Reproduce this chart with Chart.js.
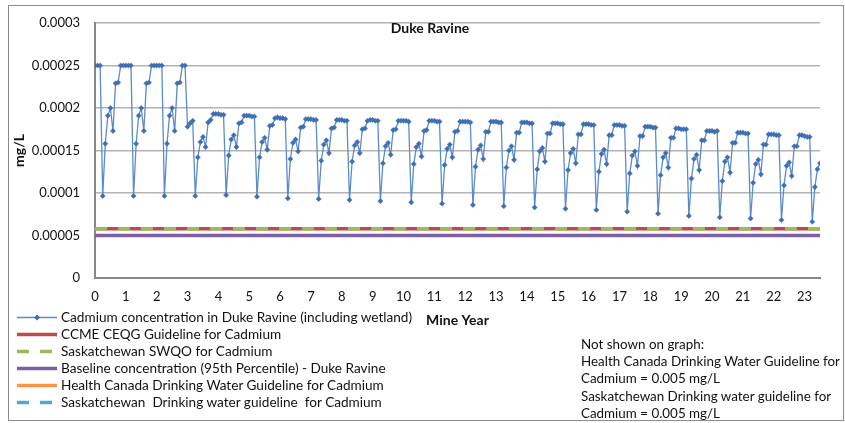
<!DOCTYPE html>
<html><head><meta charset="utf-8">
<script src="https://cdn.jsdelivr.net/npm/chart.js@4.4.1/dist/chart.umd.min.js"></script>
<style>
html,body{margin:0;padding:0;background:#fff;}
#wrap{position:relative;width:845px;height:423px;overflow:hidden;font-family:Lato,"Liberation Sans",sans-serif;color:#111;}
#c{position:absolute;left:0;top:0;}
#frame{position:absolute;left:8px;top:5px;width:836px;height:416px;border:1px solid #8c8c8c;box-sizing:border-box;pointer-events:none;}
#title{position:absolute;left:0;width:860px;top:19px;text-align:center;font-weight:bold;font-size:14px;}
#legend{position:absolute;left:16px;top:309px;font-size:13.6px;line-height:17px;}
.row{height:17px;display:flex;align-items:center;white-space:nowrap;}
.row svg{width:42px;height:17px;margin-right:3px;flex:none;}
#note{position:absolute;left:581px;top:336px;font-size:13.4px;line-height:17.2px;}
</style></head>
<body>
<div id="wrap">
<canvas id="c" width="845" height="423"></canvas>
<div id="frame"></div>
<div id="title">Duke Ravine</div>
<div id="legend"></div>
<div id="note">Not shown on graph:<br>Health Canada Drinking Water Guideline for<br>Cadmium = 0.005 mg/L<br>Saskatchewan Drinking water guideline for<br>Cadmium = 0.005 mg/L</div>
</div>
<script>
// Monthly cadmium concentration (mg/L), one row per mine year (12 months each)
const cadmiumMonthly = [
 0.00025,0.00025,0.00025,0.0000965,0.000158,0.000191,0.0002,0.000173,0.000229,0.00023,0.00025,0.00025,
 0.00025,0.00025,0.00025,0.0000965,0.000158,0.000191,0.0002,0.000173,0.000229,0.00023,0.00025,0.00025,
 0.00025,0.00025,0.00025,0.0000965,0.000158,0.000191,0.0002,0.000173,0.000229,0.00023,0.00025,0.00025,
 0.000178,0.000182,0.000185,0.0000965,0.000142,0.00016,0.000166,0.000154,0.000183,0.000186,0.000193,0.000193,
 0.000193,0.000192,0.000192,0.0000976,0.000144,0.000163,0.000168,0.000154,0.000182,0.000183,0.000191,0.000191,
 0.000191,0.00019,0.00019,0.0000957,0.000142,0.00016,0.000165,0.000151,0.000179,0.00018,0.000188,0.000189,
 0.000188,0.000188,0.000187,0.0000937,0.00014,0.000159,0.000163,0.000149,0.000177,0.000178,0.000187,0.000187,
 0.000187,0.000186,0.000186,0.000093,0.000138,0.000157,0.000162,0.000147,0.000176,0.000177,0.000186,0.000186,
 0.000186,0.000185,0.000185,0.0000918,0.000137,0.000156,0.00016,0.000147,0.000175,0.000176,0.000185,0.000186,
 0.000186,0.000185,0.000185,0.0000905,0.000135,0.000155,0.000159,0.000145,0.000174,0.000175,0.000185,0.000185,
 0.000185,0.000185,0.000184,0.000089,0.000134,0.000154,0.000158,0.000143,0.000173,0.000174,0.000185,0.000185,
 0.000185,0.000184,0.000184,0.0000875,0.000133,0.000152,0.000157,0.000142,0.000172,0.000173,0.000184,0.000184,
 0.000184,0.000184,0.000183,0.000086,0.000131,0.000151,0.000156,0.00014,0.000172,0.000172,0.000184,0.000184,
 0.000184,0.000183,0.000183,0.0000845,0.00013,0.00015,0.000155,0.000139,0.000171,0.000171,0.000183,0.000183,
 0.000183,0.000182,0.000182,0.000083,0.000128,0.000149,0.000153,0.000137,0.00017,0.00017,0.000182,0.000182,
 0.000182,0.000181,0.000181,0.0000815,0.000127,0.000147,0.000152,0.000135,0.000169,0.000169,0.000181,0.000181,
 0.000181,0.00018,0.00018,0.00008,0.000125,0.000146,0.000151,0.000134,0.000168,0.000168,0.00018,0.00018,
 0.00018,0.000179,0.000179,0.000078,0.000123,0.000144,0.000149,0.000132,0.000167,0.000167,0.000178,0.000178,
 0.000178,0.000177,0.000177,0.0000757,0.000121,0.000142,0.000147,0.00013,0.000165,0.000165,0.000176,0.000176,
 0.000175,0.000175,0.000175,0.000073,0.000117,0.00014,0.000145,0.000127,0.000162,0.000162,0.000173,0.000173,
 0.000173,0.000172,0.000173,0.0000714,0.000114,0.000137,0.000142,0.000124,0.000159,0.000159,0.000171,0.000171,
 0.000171,0.00017,0.00017,0.00007,0.000112,0.000134,0.000139,0.000122,0.000157,0.000157,0.000169,0.000169,
 0.000169,0.000168,0.000168,0.0000682,0.000109,0.000132,0.000136,0.00012,0.000155,0.000155,0.000168,0.000168,
 0.000167,0.000166,0.000166,0.0000662,0.000107,0.000128,0.000135
];
const ccmeGuideline = 0.000058;
const swqoGuideline = 0.000058;
const baselineP95 = 0.00005;
const healthCanadaGuideline = 0.005;
const saskDrinkingGuideline = 0.005;
const seriesLabels = [
 'Cadmium concentration in Duke Ravine (including wetland)',
 'CCME CEQG Guideline for Cadmium',
 'Saskatchewan SWQO for Cadmium',
 'Baseline concentration (95th Percentile) - Duke Ravine',
 'Health Canada Drinking Water Guideline for Cadmium',
 'Saskatchewan  Drinking water guideline  for Cadmium'
];
const yearTickLabels = ['0','1','2','3','4','5','6','7','8','9','10','11','12','13','14','15','16','17','18','19','20','21','22','23'];
const yTickLabels = {'0':'0','0.00005':'0.00005','0.0001':'0.0001','0.00015':'0.00015','0.0002':'0.0002','0.00025':'0.00025','0.0003':'0.0003'};

const MONTHS = 12;
const lastYear = (cadmiumMonthly.length - 1) / MONTHS;
const cadPoints = cadmiumMonthly.map((v, i) => ({x: i / MONTHS, y: v}));
const flat = v => [{x: 0, y: v}, {x: lastYear, y: v}];

const colors = ['#4a7ebb', '#be4b48', '#9bbb59', '#7d60a0', '#f79646', '#4bacc6'];
const font = {family: 'Lato, "Liberation Sans", sans-serif', size: 13};

const datasets = [
 {label: seriesLabels[0], data: cadPoints, borderColor: '#5a8bcb', borderWidth: 1.3, pointStyle: 'rectRot', pointRadius: 2.6, pointBackgroundColor: '#3f6fb3', pointBorderColor: '#3f6fb3', pointBorderWidth: 0.5, tension: 0, order: 0},
 {label: seriesLabels[1], data: flat(ccmeGuideline), borderColor: colors[1], borderWidth: 3.5, pointRadius: 0, order: 2},
 {label: seriesLabels[2], data: flat(swqoGuideline), borderColor: colors[2], borderWidth: 3.5, borderDash: [12, 11], pointRadius: 0, order: 1},
 {label: seriesLabels[3], data: flat(baselineP95), borderColor: colors[3], borderWidth: 3.5, pointRadius: 0, order: 3},
 {label: seriesLabels[4], data: flat(healthCanadaGuideline), borderColor: colors[4], borderWidth: 3.5, pointRadius: 0, order: 4},
 {label: seriesLabels[5], data: flat(saskDrinkingGuideline), borderColor: colors[5], borderWidth: 3.5, borderDash: [12, 11], pointRadius: 0, order: 5}
];

new Chart(document.getElementById('c'), {
 type: 'line',
 data: {datasets},
 options: {
  responsive: false, animation: false, events: [],
  layout: {padding: {top: 23, right: 25, bottom: 0, left: 0}},
  plugins: {legend: {display: false}, title: {display: false}, tooltip: {enabled: false}},
  scales: {
   x: {
    type: 'linear', min: 0, max: lastYear,
    ticks: {stepSize: 1, includeBounds: false, autoSkip: false, maxRotation: 0, padding: 11, color: '#111', font,
            callback: v => yearTickLabels[v] !== undefined ? yearTickLabels[v] : ''},
    grid: {display: false, drawTicks: false},
    border: {display: true, color: '#878787', width: 2},
    title: {display: true, text: 'Mine Year', color: '#111', font: {family: font.family, size: 14, weight: 'bold'}, padding: {top: 0, bottom: 94}},
    afterFit: s => { s.height = 145; }
   },
   y: {
    min: 0, max: 0.0003,
    ticks: {stepSize: 0.00005, padding: 15, color: '#111', font,
            callback: v => { const k = String(parseFloat(v.toFixed(5))); return yTickLabels[k] !== undefined ? yTickLabels[k] : k; }},
    grid: {color: '#b3b3b3', lineWidth: 1.5, drawTicks: false},
    border: {display: true, color: '#878787', width: 2},
    title: {display: true, text: 'mg/L', color: '#111', font: {family: font.family, size: 14, weight: 'bold'}, padding: {top: 11, bottom: 0}},
    afterFit: s => { s.width = 95; }
   }
  }
 }
});

// HTML legend built from the series labels and colours
const legend = document.getElementById('legend');
const sym = [
 '<line x1="1" y1="8.5" x2="41" y2="8.5" stroke="#5a8bcb" stroke-width="1.3"/><path d="M21 5.5 L24 8.5 L21 11.5 L18 8.5 Z" fill="#3f6fb3"/>',
 '<line x1="1" y1="8.5" x2="41" y2="8.5" stroke="' + colors[1] + '" stroke-width="3.5"/>',
 '<line x1="1" y1="8.5" x2="41" y2="8.5" stroke="' + colors[2] + '" stroke-width="3.5" stroke-dasharray="12 11"/>',
 '<line x1="1" y1="8.5" x2="41" y2="8.5" stroke="' + colors[3] + '" stroke-width="3.5"/>',
 '<line x1="1" y1="8.5" x2="41" y2="8.5" stroke="' + colors[4] + '" stroke-width="3.5"/>',
 '<line x1="1" y1="8.5" x2="41" y2="8.5" stroke="' + colors[5] + '" stroke-width="3.5" stroke-dasharray="12 11"/>'
];
seriesLabels.forEach((lab, i) => {
 const r = document.createElement('div');
 r.className = 'row';
 r.innerHTML = '<svg viewBox="0 0 42 17">' + sym[i] + '</svg>';
 const t = document.createElement('span');
 t.textContent = lab;
 t.style.whiteSpace = 'pre';
 r.appendChild(t);
 legend.appendChild(r);
});
</script>
</body></html>
